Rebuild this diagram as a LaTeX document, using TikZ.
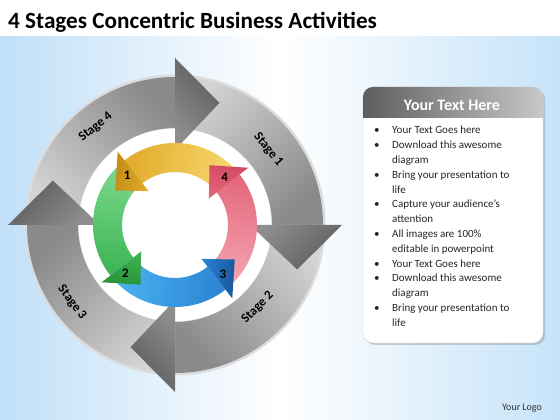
\documentclass[tikz,border=0pt]{standalone}
\usepackage{fontspec}
\setmainfont{Carlito}
\usetikzlibrary{shadows}

\definecolor{bgleft}{HTML}{C0DFF8}
\definecolor{bgright}{HTML}{C6E3F9}
\definecolor{ringrim}{HTML}{DCDCDC}
\definecolor{ringlight}{HTML}{D4D4D4}
\definecolor{ringdark}{HTML}{8A8A8A}
\definecolor{headlight}{HTML}{8E8E8E}
\definecolor{headdark}{HTML}{5C5C5C}
\definecolor{ylight}{HTML}{F7D870}
\definecolor{ydark}{HTML}{E2AC2C}
\definecolor{yhead}{HTML}{C48C16}
\definecolor{glight}{HTML}{7EDA8E}
\definecolor{gdark}{HTML}{3DB454}
\definecolor{ghead}{HTML}{2A9238}
\definecolor{blight}{HTML}{4CB4F2}
\definecolor{bdark}{HTML}{2A84D2}
\definecolor{bhead}{HTML}{17569E}
\definecolor{plight}{HTML}{F4A6B4}
\definecolor{pdark}{HTML}{E4687C}
\definecolor{phead}{HTML}{D24862}
\definecolor{hdrdark}{HTML}{5E5E5E}
\definecolor{hdrlight}{HTML}{C8C8C8}

\tikzset{
  titletext/.style={font=\bfseries\fontsize{23.2}{24}\selectfont, inner sep=0},
  stagetext/.style={font=\bfseries\fontsize{13}{13}\selectfont, text=black},
  numtext/.style={font=\bfseries\fontsize{13}{13}\selectfont, text=black},
  listtext/.style={font=\fontsize{11}{14.8}\selectfont, text=black!85, inner sep=0},
}

\begin{document}
\begin{tikzpicture}[x=1pt,y=1pt]
\useasboundingbox (0,0) rectangle (560,420);

% background
\fill[white] (0,383) rectangle (560,420);
\shade[left color=bgleft, right color=bgright, middle color=white] (0,0) rectangle (560,383);

% title
\node[titletext, anchor=base west] (title) at (8,391) {4 Stages Concentric Business Activities};

% the circle
\begin{scope}[shift={(175,195)}]

%% light rim and white gap disc
\fill[ringrim] (0,0) circle[radius=150.5];
\filldraw[fill=white, draw=gray!25, line width=1] (0,0) circle[radius=97];

%% outer ring: bodies
\foreach \a [evaluate=\a as \sa using \a-45] in {90,0,-90,-180}
    \shade[top color=ringlight, bottom color=ringdark, shading angle=\sa]
        (\a:148) arc[start angle=\a, end angle=\a-90, radius=148]
        -- ({\a-90}:97) arc[start angle=\a-90, end angle=\a, radius=97] -- cycle;

%% outer ring: heads
\foreach \a [evaluate=\a as \sa using \a-45] in {90,0,-90,-180}
    \shade[top color=headlight, bottom color=headdark, shading angle=\sa]
        ({\a-90}:75) -- ({\a-90}:167) -- ({\a-110}:130) -- cycle;

%% stage labels
\node[stagetext, rotate=-51] (s1) at (39:120) {Stage 1};
\node[stagetext, rotate=45] (s2) at (-45:117) {Stage 2};
\node[stagetext, rotate=-53] (s3) at (-143:129) {Stage 3};
\node[stagetext, rotate=39] (s4) at (129:126) {Stage 4};

%% inner ring: bodies
\foreach \b/\lc/\dc [evaluate=\b as \sb using \b-135] in {38/ylight/ydark, 128/glight/gdark, 218/blight/bdark, 308/plight/pdark}
    \shade[top color=\lc, bottom color=\dc, shading angle=\sb]
        (\b:82) arc[start angle=\b, end angle=\b+90, radius=82]
        -- ({\b+90}:53) arc[start angle=\b+90, end angle=\b, radius=53] -- cycle;

%% inner ring: heads and numbers
\foreach \b/\dc/\hc/\n [evaluate=\b as \sb using \b-135] in {38/ydark/yhead/1, 128/gdark/ghead/2, 218/bdark/bhead/3, 308/pdark/phead/4}
{
    \shade[top color=\dc, bottom color=\hc, shading angle=\sb]
        ({\b+90}:43) -- ({\b+90}:93) -- ({\b+112}:69) -- cycle;
    \node[numtext] (n\n) at ({\b+96}:69) {\n};
}
\end{scope}

% text panel
\filldraw[rounded corners=10, fill=white, draw=gray!35,
    drop shadow={shadow xshift=2pt, shadow yshift=-2pt, opacity=.35}]
    (363,77) rectangle (543,333);
\begin{scope}
    \clip[rounded corners=10] (363,77) rectangle (543,333);
    \shade[left color=hdrdark, right color=hdrlight] (363,302) rectangle (543,333);
\end{scope}
\node[anchor=base, text=white, font=\bfseries\fontsize{16}{16}\selectfont] (hdr) at (452,309) {Your Text Here};

\node[listtext, anchor=base west] (list) at (374,286) {%
\begin{tabular}[t]{@{}p{18pt}@{}l@{}}
\textbullet & Your Text Goes here\\
\textbullet & Download this awesome\\
 & diagram\\
\textbullet & Bring your presentation to\\
 & life\\
\textbullet & Capture your audience’s\\
 & attention\\
\textbullet & All images are 100\%\\
 & editable in powerpoint\\
\textbullet & Your Text Goes here\\
\textbullet & Download this awesome\\
 & diagram\\
\textbullet & Bring your presentation to\\
 & life
\end{tabular}};

% logo
\node[anchor=base, font=\fontsize{10}{10}\selectfont, text=black!80] (logo) at (522,9) {Your Logo};

\end{tikzpicture}
\end{document}
